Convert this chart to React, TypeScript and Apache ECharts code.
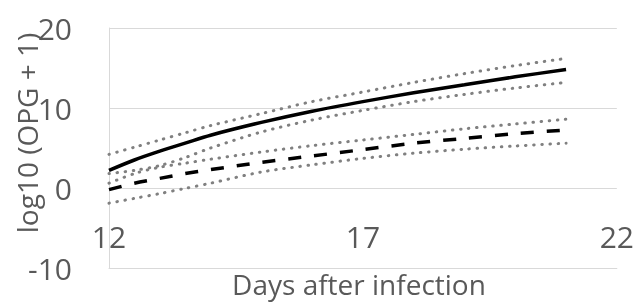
import React, { useEffect, useRef } from "react";
import * as echarts from "echarts";

const days = [12, 12.5, 13, 13.5, 14, 15, 16, 17, 18, 19, 20, 21];
const meanA = [2.2, 3.5, 4.6, 5.6, 6.6, 8.2, 9.6, 10.8, 11.9, 12.9, 13.9, 14.8];
const upperA = [4.2, 5.1, 6.0, 6.9, 7.8, 9.3, 10.8, 12.0, 13.2, 14.3, 15.3, 16.2];
const lowerA = [1.8, 2.2, 2.8, 3.8, 5.0, 7.0, 8.5, 9.7, 10.8, 11.7, 12.5, 13.2];
const meanB = [-0.2, 0.6, 1.2, 1.8, 2.3, 3.2, 4.0, 4.8, 5.6, 6.2, 6.8, 7.25];
const upperB = [0.6, 1.8, 2.6, 3.1, 3.6, 4.5, 5.3, 6.0, 6.7, 7.4, 8.0, 8.6];
const lowerB = [-1.9, -1.3, -0.7, -0.05, 0.6, 2.0, 2.9, 3.7, 4.35, 4.85, 5.25, 5.6];

const xTitle = "Days after infection";
const yTitle = "log10 (OPG + 1)";

const FONT = "'Open Sans', sans-serif";
const TXT = "#595959";
const GRID = "#d9d9d9";

const pairs = (ys: number[]) => days.map((d, i) => [d, ys[i]]);

export default function App() {
  const ref = useRef<HTMLDivElement>(null);
  useEffect(() => {
    if (!ref.current) return;
    const chart = echarts.init(ref.current, null, { renderer: "svg" });
    const dotted = (name: string, ys: number[]) => ({
      name,
      type: "line",
      data: pairs(ys),
      smooth: 0.3,
      symbol: "none",
      lineStyle: { color: "#808080", width: 3, type: [0.5, 7.6], cap: "round" },
      z: 2,
    });
    chart.setOption({
      animation: false,
      grid: { left: 109, right: 20, top: 28, bottom: 34 },
      xAxis: {
        type: "value",
        min: 12,
        max: 22,
        interval: 5,
        axisLine: { show: true, onZero: false, lineStyle: { color: GRID, width: 1 } },
        axisTick: { show: false },
        splitLine: { show: false },
        axisLabel: {
          fontFamily: FONT,
          fontSize: 30,
          color: TXT,
          margin: -32,
          verticalAlign: "middle",
        },
      },
      yAxis: {
        type: "value",
        min: -10,
        max: 20,
        interval: 10,
        axisLine: { show: true, lineStyle: { color: GRID, width: 1 } },
        axisTick: { show: false },
        splitLine: { show: true, lineStyle: { color: GRID, width: 1 } },
        axisLabel: { fontFamily: FONT, fontSize: 30, color: TXT, margin: 37 },
      },
      graphic: [
        {
          type: "text",
          x: 27,
          y: 133,
          rotation: Math.PI / 2,
          style: {
            text: yTitle,
            fontFamily: FONT,
            fontSize: 28,
            fill: TXT,
            align: "center",
            verticalAlign: "middle",
          },
        },
        {
          type: "text",
          x: 359,
          y: 284,
          style: {
            text: xTitle,
            fontFamily: FONT,
            fontSize: 28,
            fill: TXT,
            align: "center",
            verticalAlign: "middle",
          },
        },
      ],
      series: [
        dotted("upperA", upperA),
        dotted("lowerA", lowerA),
        dotted("upperB", upperB),
        dotted("lowerB", lowerB),
        {
          name: "meanA",
          type: "line",
          data: pairs(meanA),
          smooth: 0.3,
          symbol: "none",
          lineStyle: { color: "#000", width: 3.5 },
          z: 3,
        },
        {
          name: "meanB",
          type: "line",
          data: pairs(meanB),
          smooth: 0.3,
          symbol: "none",
          lineStyle: { color: "#000", width: 3.5, type: [13, 13] },
          z: 3,
        },
      ],
    });
    return () => chart.dispose();
  }, []);
  return (
    <div
      ref={ref}
      style={{ position: "fixed", left: 0, top: 0, width: 637, height: 302, overflow: "hidden" }}
    />
  );
}
